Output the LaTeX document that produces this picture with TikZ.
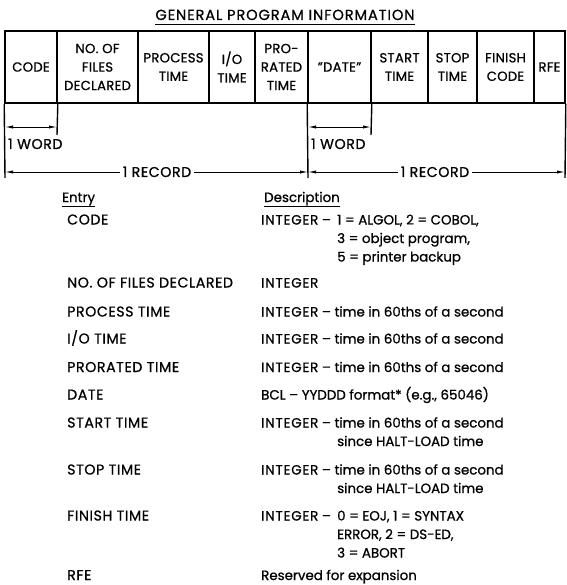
\documentclass[tikz,border=0pt]{standalone}
\usepackage{fontspec}
\setmainfont{Poppins}[FakeBold=0.8]
\usetikzlibrary{arrows.meta,calc}
\newcommand{\intdash}[1]{\makebox[76pt][l]{#1}}
\newcommand{\INTG}{{\addfontfeature{LetterSpace=6}INTEGER}}
\begin{document}
\begin{tikzpicture}[x=1pt,y=-1pt,
  txt/.style={inner sep=0pt,font=\fontsize{14.2}{18.5}\selectfont\addfontfeature{LetterSpace=4}},
  ttl/.style={inner sep=0pt,font=\fontsize{14.6}{18.5}\selectfont\addfontfeature{LetterSpace=6}},
  dtxt/.style={inner sep=0pt,font=\fontsize{13.4}{18.5}\selectfont},
  cell/.style={draw,line width=1.6pt,inner sep=0pt,align=center,minimum height=72pt,font=\fontsize{13.2}{18.5}\selectfont\addfontfeature{LetterSpace=2}},
  tip/.tip={Latex[length=8pt,width=3.2pt]},
  dim/.style={line width=0.9pt,tip-tip},
  ldim/.style={line width=0.9pt,tip-},
  rdim/.style={line width=0.9pt,-tip},
  tick/.style={line width=1.4pt},
  uline/.style={line width=0.9pt}]
\useasboundingbox (0,0) rectangle (566,585);
% title
\node[ttl,anchor=base] (title) at (285,20) {GENERAL PROGRAM INFORMATION};
\draw[uline] ($(title.base west)+(0,4.5)$) -- ($(title.base east)+(0,4.5)$);
% header cells
\node[cell,minimum width=52pt] (c1) at (31,67) {CODE};
\node[cell,minimum width=81pt] (c2) at (97.5,67) {NO. OF\\FILES\\DECLARED};
\node[cell,minimum width=71pt] (c3) at (173.5,67) {PROCESS\\TIME};
\node[cell,minimum width=46pt] (c4) at (232,67) {I/O\\TIME};
\node[cell,minimum width=53pt] (c5) at (281.5,67) {PRO-\\RATED\\TIME};
\node[cell,minimum width=63pt] (c6) at (339.5,67) {"DATE"};
\node[cell,minimum width=57pt] (c7) at (399.5,67) {START\\TIME};
\node[cell,minimum width=49pt] (c8) at (452.5,67) {STOP\\TIME};
\node[cell,minimum width=57pt] (c9) at (505.5,67) {FINISH\\CODE};
\node[cell,minimum width=31pt] (c10) at (549.5,67) {RFE};
% dimension coordinates
\coordinate (wa1) at (5,127);
\coordinate (wb1) at (57,127);
\coordinate (wa2) at (308,127);
\coordinate (wb2) at (371,127);
\coordinate (ra) at (5,172);
\coordinate (rm) at (308,172);
\coordinate (rb) at (565,172);
% ticks
\draw[tick] (c1.south west) -- (5,178);
\draw[tick] (c1.south east) -- (57,135);
\draw[tick] (c6.south west) -- (308,178);
\draw[tick] (c6.south east) -- (371,135);
\draw[tick] (c10.south east) -- (565,178);
% word arrows
\draw[dim] (wa1) -- (wb1);
\draw[dim] (wa2) -- (wb2);
\node[txt,anchor=base west] (w1) at (8,149) {1 WORD};
\node[txt,anchor=base west] (w2) at (311,149) {1 WORD};
% record arrows
\node[txt,fill=white,inner xsep=3pt,anchor=base] (r1) at (157,177) {1 RECORD};
\node[txt,fill=white,inner xsep=3pt,anchor=base] (r2) at (435,177) {1 RECORD};
\draw[ldim] (ra) -- (r1.west |- ra);
\draw[rdim] (r1.east |- rm) -- (rm);
\draw[ldim] (rm) -- (r2.west |- rm);
\draw[rdim] (r2.east |- rb) -- (rb);
% table heads
\node[dtxt,anchor=base west] (hE) at (62,202) {Entry};
\draw[uline] ($(hE.base west)+(0,4.5)$) -- ($(hE.base east)+(0,4.5)$);
\node[dtxt,anchor=base west] (hD) at (264,202) {Description};
\draw[uline] ($(hD.base west)+(0,4.5)$) -- ($(hD.base east)+(0,4.5)$);
% entries
\node[txt,anchor=base west] (e1) at (67,224.5) {CODE};
\node[txt,anchor=base west] (e2) at (67,287.5) {NO. OF FILES DECLARED};
\node[txt,anchor=base west] (e3) at (67,316.5) {PROCESS TIME};
\node[txt,anchor=base west] (e4) at (67,343.5) {I/O TIME};
\node[txt,anchor=base west] (e5) at (67,372) {PRORATED TIME};
\node[txt,anchor=base west] (e6) at (67,399.5) {DATE};
\node[txt,anchor=base west] (e7) at (67,427.5) {START TIME};
\node[txt,anchor=base west] (e8) at (67,474.5) {STOP TIME};
\node[txt,anchor=base west] (e9) at (67,520.5) {FINISH TIME};
\node[txt,anchor=base west] (e10) at (67,580) {RFE};
% descriptions
\node[dtxt,anchor=base west,align=left] (d1) at (261,224.5) {\begin{tabular}[t]{@{}l@{}l@{}}\intdash{\INTG{} –}&1 = ALGOL, 2 = COBOL,\\ &3 = object program,\\ &5 = printer backup\end{tabular}};
\node[dtxt,anchor=base west] (d2) at (261,287.5) {\INTG};
\node[dtxt,anchor=base west] (d3) at (261,316.5) {\INTG{} – time in 60ths of a second};
\node[dtxt,anchor=base west] (d4) at (261,343.5) {\INTG{} – time in 60ths of a second};
\node[dtxt,anchor=base west] (d5) at (261,372) {\INTG{} – time in 60ths of a second};
\node[dtxt,anchor=base west] (d6) at (261,399.5) {BCL – YYDDD format* (e.g., 65046)};
\node[dtxt,anchor=base west,align=left] (d7) at (261,427.5) {\begin{tabular}[t]{@{}l@{}l@{}}\intdash{\INTG{} – time in 60ths of a second}&\\ &since HALT-LOAD time\end{tabular}};
\node[dtxt,anchor=base west,align=left] (d8) at (261,474.5) {\begin{tabular}[t]{@{}l@{}l@{}}\intdash{\INTG{} – time in 60ths of a second}&\\ &since HALT-LOAD time\end{tabular}};
\node[dtxt,anchor=base west,align=left] (d9) at (261,520.5) {\begin{tabular}[t]{@{}l@{}l@{}}\intdash{\INTG{} –}&0 = EOJ, 1 = SYNTAX\\ &ERROR, 2 = DS-ED,\\ &3 = ABORT\end{tabular}};
\node[dtxt,anchor=base west] (d10) at (261,580) {Reserved for expansion};
\end{tikzpicture}
\end{document}
